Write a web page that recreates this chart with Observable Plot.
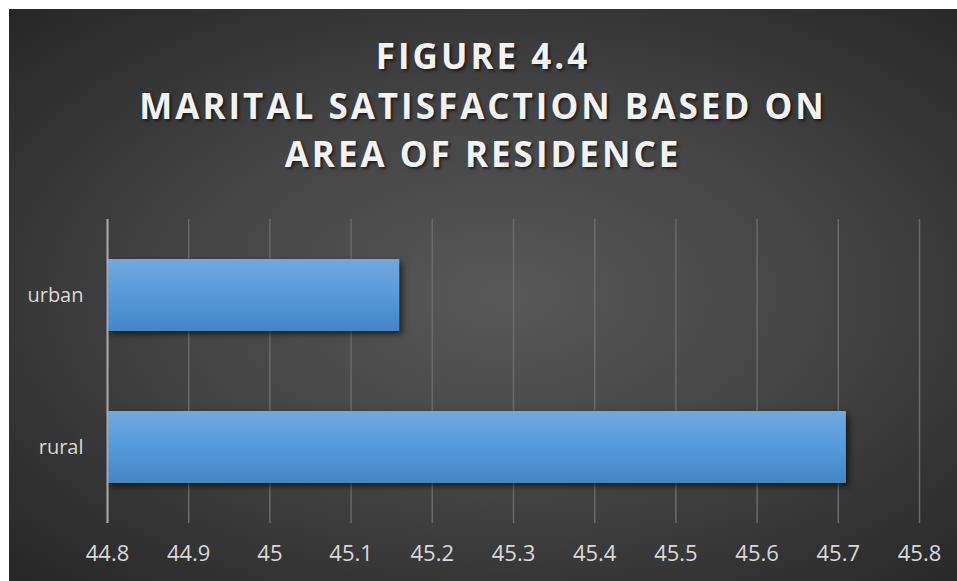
<!DOCTYPE html>
<html>
<head>
<meta charset="utf-8">
<script src="https://cdn.jsdelivr.net/npm/d3@7"></script>
<script src="https://cdn.jsdelivr.net/npm/@observablehq/plot@0.6"></script>
<style>
  html, body { margin: 0; padding: 0; background: #ffffff; }
  #chart {
    position: absolute; left: 9px; top: 9px; width: 948px; height: 572px;
    background: radial-gradient(ellipse farthest-corner at 52% 50%, #585858 0%, #454545 45%, #262626 100%);
    overflow: hidden;
  }
  #title {
    height: 191px; box-sizing: border-box; padding-top: 21px;
    font-family: "Open Sans", sans-serif; font-weight: 700; font-size: 35px;
    letter-spacing: 3px; color: #f2f2f2; text-align: center;
    text-shadow: 2px 2px 3px rgba(0,0,0,0.55);
  }
  #title div { white-space: nowrap; }
  #title div.l1 { height: 52px; line-height: 52px; }
  #title div.l2 { height: 48px; line-height: 48px; }
  #title div.l3 { height: 48px; line-height: 48px; }
</style>
</head>
<body>
<div id="chart">
  <div id="title"></div>
  <div id="plot"></div>
</div>
<script>
const titleLines = ["FIGURE 4.4", "MARITAL SATISFACTION BASED ON", "AREA OF RESIDENCE"];
const categories = ["urban", "rural"];
const values = [45.16, 45.71];
const xTicks = [44.8, 44.9, 45, 45.1, 45.2, 45.3, 45.4, 45.5, 45.6, 45.7, 45.8];

const titleEl = document.getElementById("title");
titleLines.forEach((t, i) => { const d = document.createElement("div"); d.className = "l" + (i + 1); d.textContent = t; titleEl.appendChild(d); });

const data = categories.map((c, i) => ({category: c, value: values[i]}));
const xMin = xTicks[0], xMax = xTicks[xTicks.length - 1];

const plot = Plot.plot({
  width: 948,
  height: 381,
  marginLeft: 98,
  marginRight: 38,
  marginTop: 19,
  marginBottom: 58,
  style: {background: "transparent", fontFamily: "Open Sans, sans-serif", fontSize: "21px", color: "#d9d9d9"},
  x: {domain: [xMin, xMax]},
  y: {domain: categories, paddingInner: 0.526, paddingOuter: 0.263},
  marks: [
    Plot.gridX(xTicks, {stroke: "#6a6a6a", strokeOpacity: 1, strokeWidth: 1.5}),
    Plot.barX(data, {y: "category", x1: () => xMin, x2: "value", fill: "url(#barGrad)"}),
    Plot.ruleX([xMin], {stroke: "#a8a8a8", strokeWidth: 2}),
    Plot.axisX({ticks: xTicks, tickFormat: d => String(d), tickSize: 0, tickPadding: 22, fill: "#d9d9d9", fontSize: 22, label: null}),
    Plot.axisY({tickSize: 0, tickPadding: 24, fill: "#d9d9d9", fontSize: 20, label: null})
  ]
});

const svg = d3.select(plot);
const defs = svg.insert("defs", ":first-child");
const grad = defs.append("linearGradient").attr("id", "barGrad").attr("x1", 0).attr("y1", 0).attr("x2", 0).attr("y2", 1);
grad.append("stop").attr("offset", "0%").attr("stop-color", "#72a8de");
grad.append("stop").attr("offset", "50%").attr("stop-color", "#559adc");
grad.append("stop").attr("offset", "100%").attr("stop-color", "#4286c7");
svg.selectAll("g[aria-label='bar']").style("filter", "drop-shadow(3px 3px 3px rgba(0,0,0,0.6))");

document.getElementById("plot").appendChild(plot);
</script>
</body>
</html>
